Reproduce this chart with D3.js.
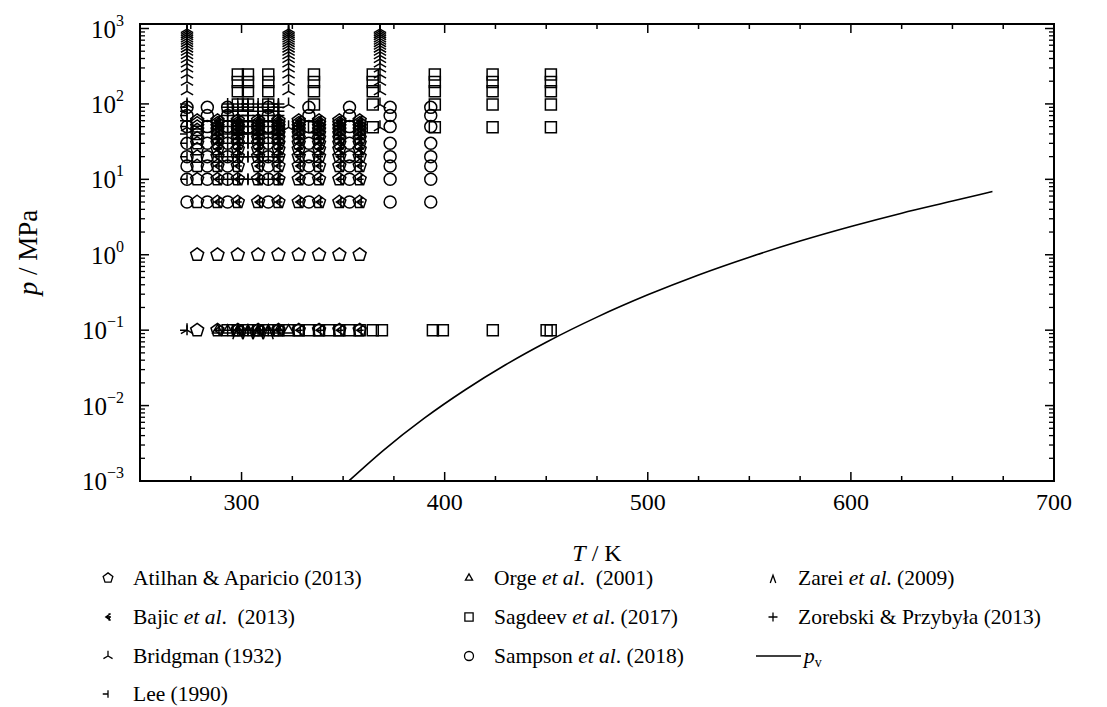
<!DOCTYPE html>
<html>
<head>
<meta charset="utf-8">
<script src="https://cdn.jsdelivr.net/npm/d3@7"></script>
<style>
  body { margin: 0; background: #fff; }
  svg { display: block; }
  text { font-family: "Liberation Serif", "Times New Roman", serif; fill: #000; white-space: pre; }
</style>
</head>
<body>
<svg id="chart" width="1107" height="707"></svg>
<script>
// ---- Measurement grids (T in K, p in MPa) ----
const atilhanTemps = [278.15, 288.15, 298.15, 308.15, 318.15, 328.15, 338.15, 348.15, 358.15];
const atilhanPressures = [0.1, 1, 5, 10, 15, 20, 25, 30, 35, 40, 45, 50, 55, 60];

const bajicTemps = [288.15, 298.15, 308.15, 318.15, 328.15, 338.15, 348.15, 358.15];
const bajicPressures = [0.1, 5, 10, 15, 20, 25, 30, 35, 40, 45, 50, 55, 60];

const bridgmanTemps = [273.15, 323.15, 368.15];
const bridgmanPressures = [49, 98, 147, 196, 245, 294, 343, 392, 441, 490, 539, 588, 637, 686, 735, 784, 833, 882, 931, 981];
const bridgmanAtmTemps = [273.15];

const leeTemps = [273.15, 303.15, 318.15];
const leePressures = [0.1, 10, 20, 30, 40, 50, 60, 70, 80, 90, 100];

const orgeTemps = [288.15, 293.15, 298.15, 303.15, 308.15, 313.15, 318.15, 323.15];
const orgePressures = [0.1];

const sagdeevTemps = [298.15, 303.15, 313.15, 335.65, 364.6, 395.15, 423.6, 452.3];
const sagdeevPressures = [49, 98, 147, 196, 245];
const sagdeevAtmTemps = [293.15, 298.15, 303.15, 308.15, 313.15, 318.15, 323.15, 328.15, 333.15, 338.15,
                         343.15, 348.15, 353.15, 358.15, 364.6, 369.1, 394.2, 399.1, 423.7, 450.2, 452.2];

const sampsonTemps = [273.15, 283.15, 293.15, 313.15, 333.15, 353.15, 373.15, 393.15];
const sampsonPressures = [5, 10, 15, 20, 30, 50, 70, 90];

const zareiTemps = [298.15, 303.15, 308.15, 313.15];
const zareiPressures = [0.1];

const zorebskiTemps = [293.15, 298.15, 303.15, 308.15, 313.15, 318.15];
const zorebskiPressures = [0.1, 10, 20, 30, 40, 50, 60, 70, 80, 90, 100];

// Vapour pressure curve p_v(T)
const vaporT = [352.8, 370, 390, 410, 430, 450, 475, 500, 525, 550, 575, 600, 625, 650, 669.7];
const vaporP = [0.001, 0.00257, 0.00681, 0.0161, 0.0348, 0.0692, 0.149, 0.294, 0.540, 0.929, 1.52, 2.37, 3.56, 5.15, 6.9];

// Axis ticks
const xMajorTicks = [300, 400, 500, 600, 700];
const yDecades = [-3, -2, -1, 0, 1, 2, 3];

// ---- Chart ----
const svg = d3.select("#chart");
const frame = { left: 140, right: 1054, top: 24, bottom: 481 };

const x = d3.scaleLinear().domain([250, 700]).range([frame.left, frame.right]);
const y = d3.scaleLog().domain([1e-3, 1e3]).range([frame.bottom, 28.5]);

const grid = (temps, pressures) => temps.flatMap(t => pressures.map(p => [t, p]));

// marker glyphs, centred at (0,0)
function polygon(n, r, rot) {
  const pts = d3.range(n).map(i => {
    const a = rot + i * 2 * Math.PI / n;
    return [r * Math.cos(a), r * Math.sin(a)];
  });
  return "M" + pts.map(p => p[0].toFixed(2) + "," + p[1].toFixed(2)).join("L") + "Z";
}
const glyphs = {
  pentagon: s => polygon(5, 6.8 * s, -Math.PI / 2),
  circle: s => { const r = 6 * s; return `M${r},0A${r},${r} 0 1,1 ${-r},0A${r},${r} 0 1,1 ${r},0Z`; },
  square: s => { const h = 5.5 * s; return `M${-h},${-h}H${h}V${h}H${-h}Z`; },
  triangle: s => polygon(3, 5.5 * s, -Math.PI / 2),
  triUp: s => `M0,0V${-7 * s}M0,0L${-6.1 * s},${3.5 * s}M0,0L${6.1 * s},${3.5 * s}`,
  tickBar: s => `M${-7 * s},0H0M0,${-5 * s}V${5 * s}`,
  arrowBar: s => `M${3.5 * s},${-4.5 * s}L${-3 * s},0L${3.5 * s},${4.5 * s}M${-3 * s},0H${4 * s}M${1.5 * s},${-5 * s}V${5 * s}`,
  caret: s => `M${-5 * s},${9 * s}L0,${-5 * s}L${5 * s},${9 * s}`,
  plus: s => `M${-6 * s},0H${6 * s}M0,${-6 * s}V${6 * s}`
};

const series = [
  { name: "atilhan", glyph: "pentagon", pts: grid(atilhanTemps, atilhanPressures) },
  { name: "bajic", glyph: "arrowBar", pts: grid(bajicTemps, bajicPressures) },
  { name: "bridgman", glyph: "triUp", pts: grid(bridgmanTemps, bridgmanPressures).concat(grid(bridgmanAtmTemps, [0.1])) },
  { name: "lee", glyph: "tickBar", pts: grid(leeTemps, leePressures) },
  { name: "orge", glyph: "triangle", pts: grid(orgeTemps, orgePressures) },
  { name: "sagdeev", glyph: "square", pts: grid(sagdeevTemps, sagdeevPressures).concat(grid(sagdeevAtmTemps, [0.1])) },
  { name: "sampson", glyph: "circle", pts: grid(sampsonTemps, sampsonPressures) },
  { name: "zarei", glyph: "caret", pts: grid(zareiTemps, zareiPressures) },
  { name: "zorebski", glyph: "plus", pts: grid(zorebskiTemps, zorebskiPressures) }
];

const defs = svg.append("defs");
defs.append("clipPath").attr("id", "plotClip")
  .append("rect").attr("x", frame.left).attr("y", frame.top)
  .attr("width", frame.right - frame.left).attr("height", frame.bottom - frame.top);

const marks = svg.append("g").attr("clip-path", "url(#plotClip)");

series.forEach(s => {
  marks.append("g").attr("class", "series-" + s.name)
    .selectAll("path").data(s.pts).join("path")
    .attr("transform", d => `translate(${x(d[0])},${y(d[1])})`)
    .attr("d", glyphs[s.glyph](1))
    .attr("fill", "none").attr("stroke", "#000").attr("stroke-width", 1.5);
});

// vapour pressure line
marks.append("path")
  .datum(vaporT.map((t, i) => [t, vaporP[i]]))
  .attr("fill", "none").attr("stroke", "#000").attr("stroke-width", 1.6)
  .attr("d", d3.line().x(d => x(d[0])).y(d => y(d[1])).curve(d3.curveMonotoneX));

// ---- Axes: frame and inward ticks ----
const axes = svg.append("g");
axes.append("rect")
  .attr("x", frame.left).attr("y", frame.top)
  .attr("width", frame.right - frame.left).attr("height", frame.bottom - frame.top)
  .attr("fill", "none").attr("stroke", "#000").attr("stroke-width", 2);

const xTicks = d3.range(250, 701, 25);
xTicks.forEach(t => {
  const major = xMajorTicks.includes(t);
  const len = major ? 9 : 5;
  axes.append("line").attr("x1", x(t)).attr("x2", x(t)).attr("y1", frame.bottom).attr("y2", frame.bottom - len)
    .attr("stroke", "#000").attr("stroke-width", 1.5);
  axes.append("line").attr("x1", x(t)).attr("x2", x(t)).attr("y1", frame.top).attr("y2", frame.top + len)
    .attr("stroke", "#000").attr("stroke-width", 1.5);
});
xMajorTicks.forEach(t => {
  axes.append("text").attr("x", x(t)).attr("y", 510).attr("text-anchor", "middle")
    .attr("font-size", 24).text(t);
});

yDecades.forEach((e, i) => {
  const v = Math.pow(10, e);
  [frame.left, frame.right].forEach((edge, k) => {
    const dir = k === 0 ? 1 : -1;
    axes.append("line").attr("x1", edge).attr("x2", edge + dir * 9)
      .attr("y1", y(v)).attr("y2", y(v)).attr("stroke", "#000").attr("stroke-width", 1.5);
    if (i < yDecades.length - 1) {
      d3.range(2, 10).forEach(m => {
        axes.append("line").attr("x1", edge).attr("x2", edge + dir * 5)
          .attr("y1", y(m * v)).attr("y2", y(m * v)).attr("stroke", "#000").attr("stroke-width", 1.3);
      });
    }
  });
  const lab = axes.append("text").attr("x", 124).attr("y", y(v) + 9).attr("text-anchor", "end").attr("font-size", 25);
  lab.append("tspan").text("10");
  lab.append("tspan").attr("font-size", 16).attr("dy", -12).text(e < 0 ? "\u2212" + (-e) : String(e));
});

// axis titles
const xt = svg.append("text").attr("x", (frame.left + frame.right) / 2).attr("y", 561)
  .attr("text-anchor", "middle").attr("font-size", 24);
xt.append("tspan").attr("font-style", "italic").text("T");
xt.append("tspan").text(" / K");

const yt = svg.append("text").attr("transform", `translate(37,${(frame.top + frame.bottom) / 2}) rotate(-90)`)
  .attr("text-anchor", "middle").attr("font-size", 27);
yt.append("tspan").attr("font-style", "italic").text("p");
yt.append("tspan").text(" / MPa");

// ---- Legend ----
const legendItems = [
  { glyph: "pentagon", col: 0, row: 0, parts: [["Atilhan & Aparicio (2013)", false]] },
  { glyph: "arrowBar", col: 0, row: 1, parts: [["Bajic ", false], ["et al", true], [".  (2013)", false]] },
  { glyph: "triUp", col: 0, row: 2, parts: [["Bridgman (1932)", false]] },
  { glyph: "tickBar", col: 0, row: 3, parts: [["Lee (1990)", false]] },
  { glyph: "triangle", col: 1, row: 0, parts: [["Orge ", false], ["et al", true], [".  (2001)", false]] },
  { glyph: "square", col: 1, row: 1, parts: [["Sagdeev ", false], ["et al", true], [". (2017)", false]] },
  { glyph: "circle", col: 1, row: 2, parts: [["Sampson ", false], ["et al", true], [". (2018)", false]] },
  { glyph: "caret", col: 2, row: 0, parts: [["Zarei ", false], ["et al", true], [". (2009)", false]] },
  { glyph: "plus", col: 2, row: 1, parts: [["Zorebski & Przyby\u0142a (2013)", false]] }
];
const colX = [108, 469, 773];
const rowY = [578, 617, 656, 694];
const legend = svg.append("g");
legendItems.forEach(it => {
  const mx = colX[it.col], my = rowY[it.row];
  legend.append("path").attr("transform", `translate(${mx},${my})`)
    .attr("d", glyphs[it.glyph](it.glyph === "caret" ? 0.55 : 0.75))
    .attr("fill", "none").attr("stroke", "#000").attr("stroke-width", 1.3);
  const t = legend.append("text").attr("x", mx + 25).attr("y", my + 7).attr("font-size", 21.5);
  it.parts.forEach(([s, it2]) => t.append("tspan").attr("font-style", it2 ? "italic" : null).text(s));
});
// p_v line entry
legend.append("line").attr("x1", 756).attr("x2", 801).attr("y1", 656).attr("y2", 656)
  .attr("stroke", "#000").attr("stroke-width", 1.5);
const pv = legend.append("text").attr("x", 804).attr("y", 663).attr("font-size", 21.5);
pv.append("tspan").attr("font-style", "italic").text("p");
pv.append("tspan").attr("font-size", 14).attr("dy", 4).text("v");
</script>
</body>
</html>
